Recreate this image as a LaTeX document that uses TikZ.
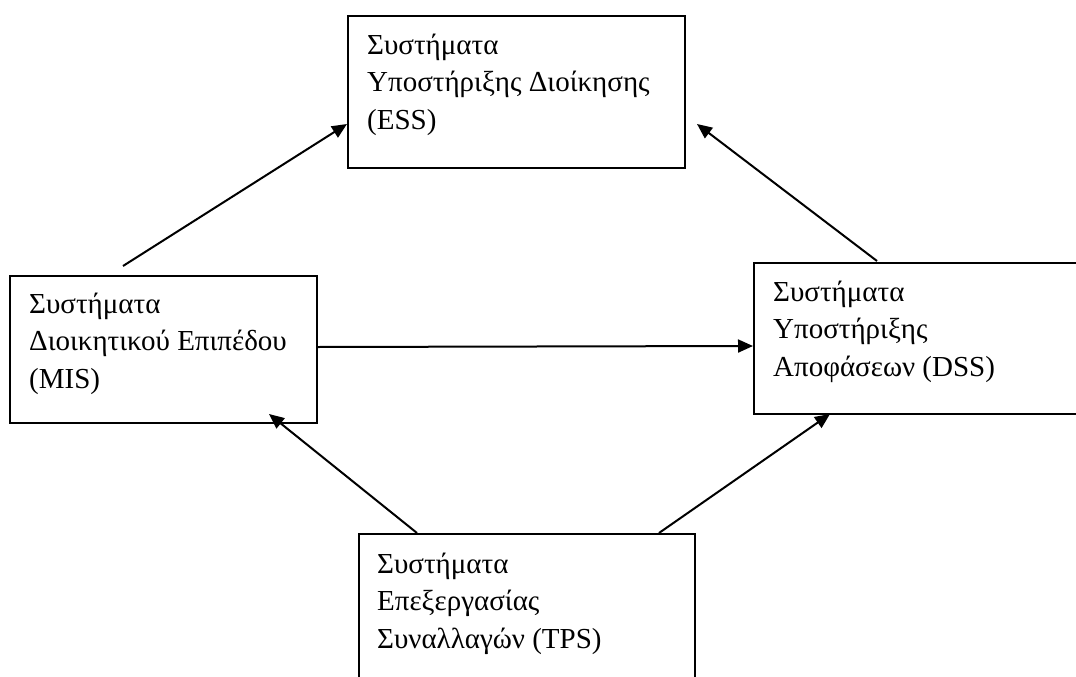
\documentclass[tikz,border=0pt]{standalone}
\usepackage{fontspec}
\setmainfont{Liberation Serif}
\usetikzlibrary{arrows.meta,calc}

\tikzset{
  sysbox/.style={draw=black, line width=2pt, fill=white, inner sep=0pt, anchor=north west},
  systext/.style={anchor=base west, inner sep=0pt, align=left,
    font=\fontsize{29}{37.5}\selectfont},
  flow/.style={line width=2pt, -{Triangle[length=15pt,width=13pt]}}
}

\begin{document}
\begin{tikzpicture}[x=1pt, y=-1pt]
  \useasboundingbox (0,0) rectangle (1076,677);
  \clip (0,0) rectangle (1076,677);

  % system boxes
  \node[sysbox, minimum width=337pt, minimum height=152pt] (ess) at (347,15) {};
  \node[sysbox, minimum width=307pt, minimum height=147pt] (mis) at (9,275) {};
  \node[sysbox, minimum width=340pt, minimum height=151pt] (dss) at (753,262) {};
  \node[sysbox, minimum width=336pt, minimum height=170pt] (tps) at (358,533) {};

  % box captions (anchored on the baseline of the last line)
  \node[systext] (esst) at ($(ess.north west)+(20,114)$)
    {Συστήματα\\Υποστήριξης Διοίκησης\\(ESS)};
  \node[systext] (mist) at ($(mis.north west)+(20,113)$)
    {Συστήματα\\Διοικητικού Επιπέδου\\(MIS)};
  \node[systext] (dsst) at ($(dss.north west)+(20,114)$)
    {Συστήματα\\Υποστήριξης\\Αποφάσεων (DSS)};
  \node[systext] (tpst) at ($(tps.north west)+(19,115)$)
    {Συστήματα\\Επεξεργασίας\\Συναλλαγών (TPS)};

  % connector end points
  \coordinate (misup)    at ($(mis.north west)+(114,-9)$);
  \coordinate (essleft)  at ($(ess.north west)+(0,109)$);
  \coordinate (dssup)    at ($(dss.north west)+(124,-1)$);
  \coordinate (essright) at ($(ess.north east)+(11,109)$);
  \coordinate (misright) at ($(mis.north east)+(0,72)$);
  \coordinate (dssleft)  at ($(dss.north west)+(0,84)$);
  \coordinate (tpsl)     at ($(tps.north west)+(59,0)$);
  \coordinate (misbot)   at ($(mis.south west)+(260,-10)$);
  \coordinate (tpsr)     at ($(tps.north west)+(301,0)$);
  \coordinate (dssbot)   at ($(dss.south west)+(77,-1)$);

  % information flows
  \draw[flow] (misup) -- (essleft);
  \draw[flow] (dssup) -- (essright);
  \draw[flow] (misright) -- (dssleft);
  \draw[flow] (tpsl) -- (misbot);
  \draw[flow] (tpsr) -- (dssbot);
\end{tikzpicture}
\end{document}
